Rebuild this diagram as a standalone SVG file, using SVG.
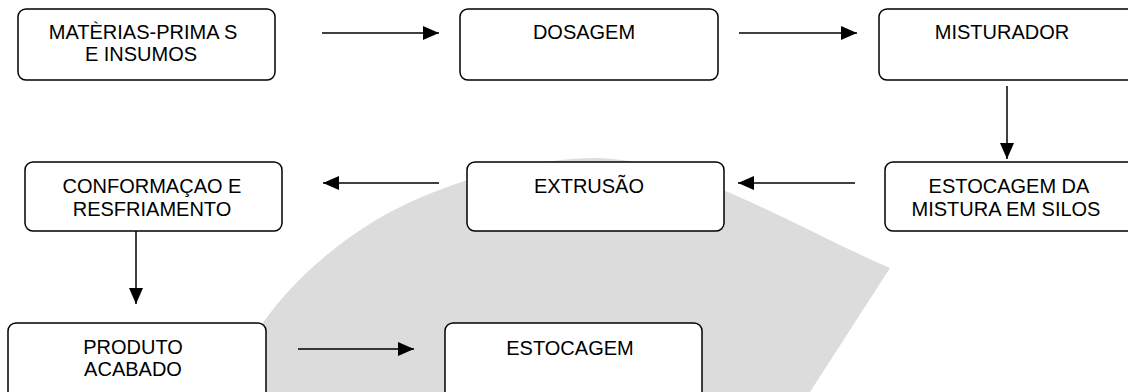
<svg xmlns="http://www.w3.org/2000/svg" width="1128" height="392" viewBox="0 0 1128 392">
<style>
.box{fill:#fff;stroke:#000;stroke-width:1.5}
.t{font-family:"Liberation Sans",Arial,sans-serif;font-size:20px;fill:#000;text-anchor:middle}
.c{stroke:#000;stroke-width:1.5;fill:none;marker-end:url(#ah)}
</style>
<defs>
<marker id="ah" markerUnits="userSpaceOnUse" markerWidth="16" markerHeight="14" refX="16" refY="7" orient="auto">
<path d="M0,0 L16,7 L0,14 Z" fill="#000"/>
</marker>
</defs>
<rect width="1128" height="392" fill="#fff"/>
<path d="M225,392 C245,340 290,272 376,220 C432,187 520,158 597,158 C690,160 790,225 890,268 L810,392 Z" fill="#dcdcdc"/>
<g id="connectors">
<line class="c" x1="322" y1="33" x2="439" y2="33"/>
<line class="c" x1="739" y1="33" x2="857" y2="33"/>
<line class="c" x1="1007" y1="86" x2="1007" y2="159"/>
<line class="c" x1="855" y1="183" x2="738" y2="183"/>
<line class="c" x1="439" y1="183" x2="323" y2="183"/>
<line class="c" x1="136" y1="231" x2="136" y2="304"/>
<line class="c" x1="298" y1="349" x2="414" y2="349"/>
</g>
<g id="n1"><rect class="box" x="18" y="9" width="257" height="71" rx="8"/><text class="t" x="143" y="39">MATÈRIAS-PRIMA S</text><text class="t" x="141" y="61">E INSUMOS</text></g>
<g id="n2"><rect class="box" x="460" y="9" width="258" height="71" rx="8"/><text class="t" x="584" y="39">DOSAGEM</text></g>
<g id="n3"><rect class="box" x="879" y="9" width="258" height="71" rx="8"/><text class="t" x="1002" y="39">MISTURADOR</text></g>
<g id="n4"><rect class="box" x="885" y="162" width="258" height="69" rx="8"/><text class="t" x="1009" y="193">ESTOCAGEM DA</text><text class="t" x="1006" y="216">MISTURA EM SILOS</text></g>
<g id="n5"><rect class="box" x="467" y="162" width="257" height="69" rx="8"/><text class="t" x="589" y="193">EXTRUSÃO</text></g>
<g id="n6"><rect class="box" x="25" y="162" width="257" height="69" rx="8"/><text class="t" x="152" y="193">CONFORMAÇAO E</text><text class="t" x="152" y="216">RESFRIAMENTO</text></g>
<g id="n7"><rect class="box" x="8" y="323" width="258" height="80" rx="8"/><text class="t" x="133" y="354">PRODUTO</text><text class="t" x="133" y="376">ACABADO</text></g>
<g id="n8"><rect class="box" x="445" y="323" width="257" height="80" rx="8"/><text class="t" x="570" y="355">ESTOCAGEM</text></g>
</svg>
